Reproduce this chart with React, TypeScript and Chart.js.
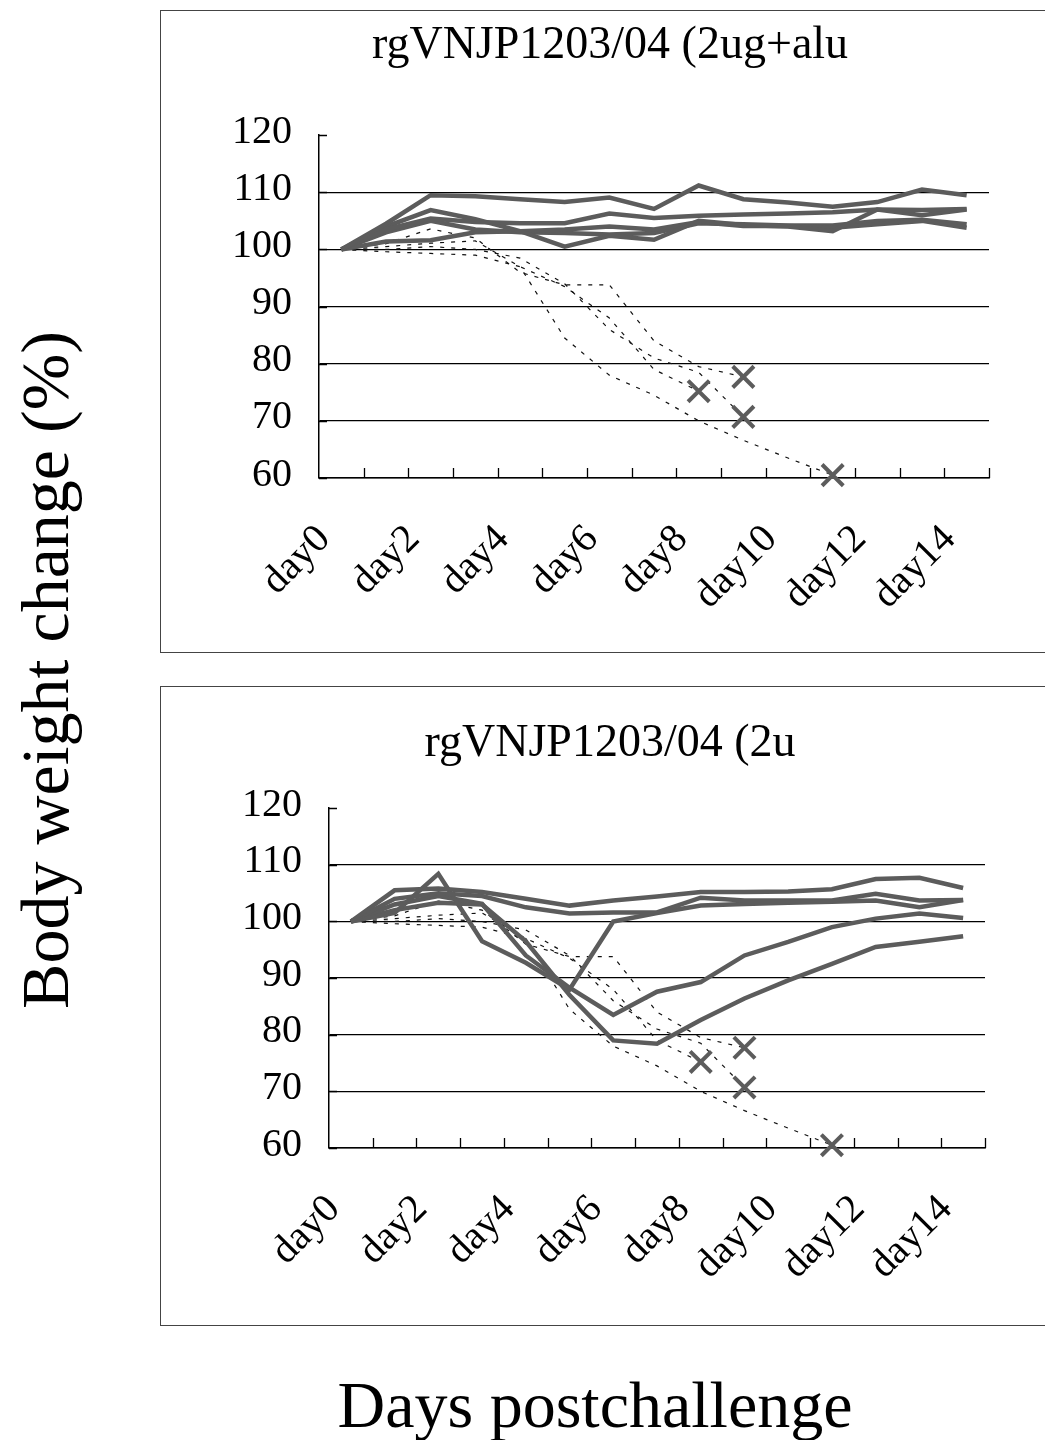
import React, { useEffect, useRef } from 'react';
import { Chart, registerables } from 'chart.js';

Chart.register(...registerables);

const FONT = "'Liberation Serif', 'Times New Roman', serif";

// categories
const days = ['day0', 'day1', 'day2', 'day3', 'day4', 'day5', 'day6', 'day7', 'day8', 'day9', 'day10', 'day11', 'day12', 'day13', 'day14'];
const yTicks = [60, 70, 80, 90, 100, 110, 120];

const topTitle = 'rgVNJP1203/04 (2ug+alu';
const bottomTitle = 'rgVNJP1203/04 (2u';

// top panel: surviving mice (solid)
const topMouse1 = [100, 104.5, 109.5, 109.3, 108.8, 108.3, 109.1, 107.1, 111.2, 108.8, 108.2, 107.5, 108.3, 110.5, 109.5];
const topMouse2 = [100, 103.5, 105.4, 104.8, 104.6, 104.6, 106.3, 105.5, 105.9, 106.1, 106.3, 106.5, 107.0, 106.9, 107.1];
const topMouse3 = [100, 104, 106.9, 105.3, 103.2, 100.5, 102.4, 101.7, 105.0, 104.3, 104.0, 103.2, 107.0, 106.0, 107.0];
const topMouse4 = [100, 101.4, 101.6, 103, 103.2, 103.5, 104, 103.5, 104.8, 104.1, 104.1, 103.8, 104.4, 105, 103.8];
const topMouse5 = [100, 103, 105, 103.5, 103, 102.9, 102.6, 102.9, 104.6, 104.4, 104.2, 104.2, 105, 105.2, 104.4];

// bottom panel: mice (solid)
const botMouse1 = [100, 105.5, 105.8, 105.2, 104, 102.8, 103.7, 104.4, 105.2, 105.2, 105.3, 105.7, 107.5, 107.7, 105.9];
const botMouse2 = [100, 104, 105, 104.5, 102.5, 101.4, 101.6, 101.6, 104.2, 103.7, 103.7, 103.7, 104.9, 103.7, 103.8];
const botMouse3 = [100, 101.5, 108.4, 96.5, 92.7, 88, 100, 101.5, 102.8, 103.1, 103.3, 103.5, 103.7, 102.5, 103.8];
const botMouse4 = [100, 103, 104.5, 103.1, 94, 88.3, 83.5, 87.6, 89.3, 94, 96.4, 99, 100.5, 101.4, 100.6];
const botMouse5 = [100, 102, 103.3, 103, 96.5, 87, 79, 78.4, 82.6, 86.4, 89.6, 92.5, 95.5, 96.4, 97.4];

// control mice (dashed), last value = death (x)
const ctrlMouse1 = [100, 99.6, 99.3, 99.0, 97, 84.5, 78, 74.5, 70, 66.6, 63.5, 60.5];
const ctrlMouse2 = [100, 100.5, 101.1, 101.5, 97, 93.5, 88, 79, 75.2];
const ctrlMouse3 = [100, 101, 103.6, 102, 96, 93.8, 93.8, 84, 79.5, 77.7];
const ctrlMouse4 = [100, 100, 100.5, 100, 98.5, 94, 86, 81, 78.5, 70.7];

const topSolids = [topMouse1, topMouse2, topMouse3, topMouse4, topMouse5];
const botSolids = [botMouse1, botMouse2, botMouse3, botMouse4, botMouse5];
const controls = [ctrlMouse1, ctrlMouse2, ctrlMouse3, ctrlMouse4];

const tickMarks = {
  id: 'tickMarks',
  beforeDatasetsDraw(chart: any) {
    const { ctx } = chart;
    const x = chart.scales.x;
    const y = chart.scales.y;
    ctx.save();
    ctx.strokeStyle = '#000';
    ctx.lineWidth = 1.3;
    ctx.beginPath();
    const n = x.ticks.length;
    const step = (x.right - x.left) / n;
    for (let i = 1; i <= n; i++) {
      const px = Math.round(x.left + step * i) + 0.5;
      ctx.moveTo(px, y.bottom);
      ctx.lineTo(px, y.bottom - 10);
    }
    for (const t of y.ticks) {
      const py = Math.round(y.getPixelForValue(t.value)) + 0.5;
      ctx.moveTo(y.right, py);
      ctx.lineTo(y.right + 8, py);
    }
    ctx.stroke();
    ctx.restore();
  },
};

type Layout = {
  yWidth: number;
  rightWidth: number;
  titleTop: number;
  titleBottom: number;
  xHeight: number;
};

function buildConfig(title: string, solids: number[][], lay: Layout): any {
  const solidSets = solids.map((d, i) => ({
    label: 'mouse ' + (i + 1),
    data: d,
    yAxisID: 'y',
    borderColor: '#5c5c5c',
    backgroundColor: '#5c5c5c',
    borderWidth: 4.5,
    pointRadius: 0,
    tension: 0,
    fill: false,
    order: 0,
  }));
  const ctrlSets = controls.map((d, i) => ({
    label: 'control ' + (i + 1),
    data: d,
    yAxisID: 'y',
    borderColor: '#111111',
    borderWidth: 1.2,
    borderDash: [4, 7],
    pointStyle: 'crossRot',
    pointRadius: (c: any) => (c.dataIndex === d.length - 1 ? 15 : 0),
    pointBorderColor: '#5c5c5c',
    pointBackgroundColor: '#5c5c5c',
    pointBorderWidth: 4,
    tension: 0,
    fill: false,
    clip: false,
    order: 1,
  }));
  return {
    type: 'line',
    data: { labels: days, datasets: [...solidSets, ...ctrlSets] },
    plugins: [tickMarks],
    options: {
      responsive: false,
      animation: false,
      layout: { padding: 0 },
      plugins: {
        legend: { display: false },
        tooltip: { enabled: false },
        title: {
          display: true,
          text: title,
          color: '#000',
          font: { family: FONT, size: 46, weight: 'normal', lineHeight: 1.2 },
          padding: { top: lay.titleTop, bottom: lay.titleBottom },
        },
      },
      scales: {
        x: {
          type: 'category',
          offset: true,
          grid: { display: false },
          border: { display: true, color: '#000', width: 1.5 },
          ticks: {
            autoSkip: false,
            minRotation: 45,
            maxRotation: 45,
            padding: 30,
            labelOffset: -17,
            color: '#000',
            font: { family: FONT, size: 40 },
            callback: function (this: any, v: any, i: number) {
              return i % 2 === 0 ? days[i] : '';
            },
          },
          afterFit: (s: any) => {
            s.height = lay.xHeight;
          },
        },
        y: {
          type: 'linear',
          position: 'left',
          min: yTicks[0],
          max: yTicks[yTicks.length - 1],
          grid: {
            drawTicks: false,
            lineWidth: 1.3,
            color: (c: any) => (c.tick && c.tick.value === 120 ? 'rgba(0,0,0,0)' : '#000'),
          },
          border: { display: true, color: '#000', width: 1.5 },
          ticks: {
            stepSize: 10,
            padding: 27,
            labelOffset: -3,
            color: '#000',
            font: { family: FONT, size: 40 },
          },
          afterFit: (s: any) => {
            s.width = lay.yWidth;
          },
        },
        yR: {
          type: 'linear',
          position: 'right',
          display: true,
          grid: { display: false },
          border: { display: false },
          ticks: { display: false },
          afterFit: (s: any) => {
            s.width = lay.rightWidth;
          },
        },
      },
    },
  };
}

function Panel(props: { top: number; height: number; title: string; solids: number[][]; lay: Layout }) {
  const ref = useRef<HTMLCanvasElement | null>(null);
  useEffect(() => {
    if (!ref.current) return;
    const chart = new Chart(ref.current, buildConfig(props.title, props.solids, props.lay));
    return () => chart.destroy();
  }, []);
  return (
    <div style={{ position: 'absolute', left: 160, top: props.top, width: 885, height: props.height, overflow: 'hidden' }}>
      <canvas
        ref={ref}
        width={900}
        height={props.height}
        style={{ position: 'absolute', left: 0, top: 0, width: 900, height: props.height }}
      />
      <div
        style={{
          position: 'absolute',
          left: 0,
          top: 0,
          width: 885,
          height: props.height,
          boxSizing: 'border-box',
          borderTop: '1px solid #444',
          borderLeft: '1px solid #444',
          borderBottom: '1px solid #444',
          pointerEvents: 'none',
        }}
      />
    </div>
  );
}

export default function App() {
  return (
    <div
      style={{
        position: 'absolute',
        left: 0,
        top: 0,
        width: 1045,
        height: 1440,
        overflow: 'hidden',
        background: '#fff',
        fontFamily: FONT,
        color: '#000',
      }}
    >
      <Panel
        top={10}
        height={643}
        title={topTitle}
        solids={topSolids}
        lay={{ yWidth: 159, rightWidth: 71, titleTop: 8, titleBottom: 62, xHeight: 175 }}
      />
      <Panel
        top={686}
        height={640}
        title={bottomTitle}
        solids={botSolids}
        lay={{ yWidth: 169, rightWidth: 75, titleTop: 30, titleBottom: 37, xHeight: 178 }}
      />
      <div
        style={{
          position: 'absolute',
          left: 45,
          top: 670,
          transform: 'translate(-50%, -50%) rotate(-90deg)',
          whiteSpace: 'nowrap',
          fontSize: 68,
          lineHeight: 1,
        }}
      >
        Body weight change (%)
      </div>
      <div
        style={{
          position: 'absolute',
          left: 595,
          top: 1405,
          transform: 'translate(-50%, -50%)',
          whiteSpace: 'nowrap',
          fontSize: 66,
          lineHeight: 1,
        }}
      >
        Days postchallenge
      </div>
    </div>
  );
}
